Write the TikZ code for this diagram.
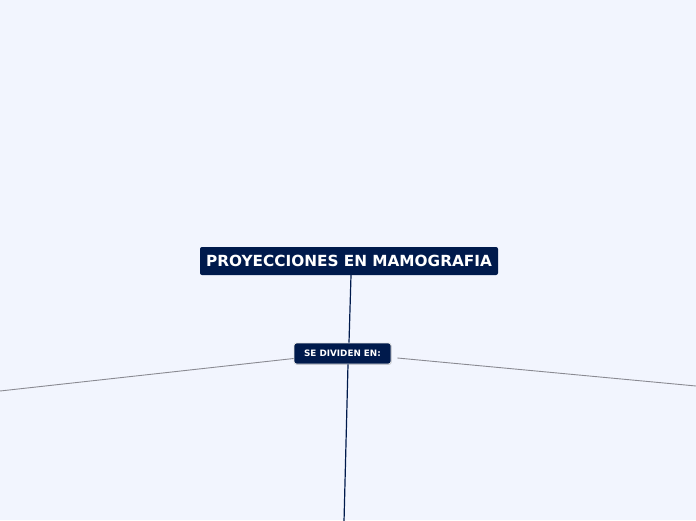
\documentclass[tikz,border=0pt]{standalone}
\usepackage{fontspec}
\setmainfont{DejaVu Sans}
\usetikzlibrary{shadows}
\definecolor{bgblue}{HTML}{F2F5FE}
\definecolor{navy}{HTML}{001A4C}
\definecolor{greyline}{HTML}{8A8A92}

\begin{document}
\begin{tikzpicture}[x=1pt,y=-1pt]
\tikzset{
 mainbox/.style={fill=navy, text=white, rounded corners=2pt, font=\fontsize{15.3}{17}\selectfont\bfseries, minimum width=298pt, minimum height=28pt, inner sep=0pt},
 subbox/.style={fill=navy, draw=white!80!gray, line width=0.8pt, text=white, rounded corners=2.5pt, font=\fontsize{8.8}{10}\selectfont\bfseries, minimum width=97pt, minimum height=21pt, inner sep=0pt, drop shadow={shadow xshift=0.6pt, shadow yshift=-0.8pt, opacity=0.35}}
}
\fill[bgblue] (0,0) rectangle (696,520);
\useasboundingbox (0,0) rectangle (696,520);

\node[mainbox] (title) at (349,261) {PROYECCIONES EN MAMOGRAFIA};
\node[subbox] (div) at (342.5,353.5) {SE DIVIDEN EN:};

\coordinate (leftend) at (0,391);
\coordinate (rightend) at (696,386);
\coordinate (downend) at (344,522);

\draw[navy, line width=1.2pt] (title.south) ++(2,0) -- ([xshift=6.5pt]div.north);
\draw[navy, line width=1.2pt] (div.south) ++(5.5,0) -- (downend);
\draw[greyline, line width=0.9pt] (div.west) ++(0,5) -- (leftend);
\draw[greyline, line width=0.9pt] (div.east) ++(6,4.5) -- (rightend);
\end{tikzpicture}
\end{document}
